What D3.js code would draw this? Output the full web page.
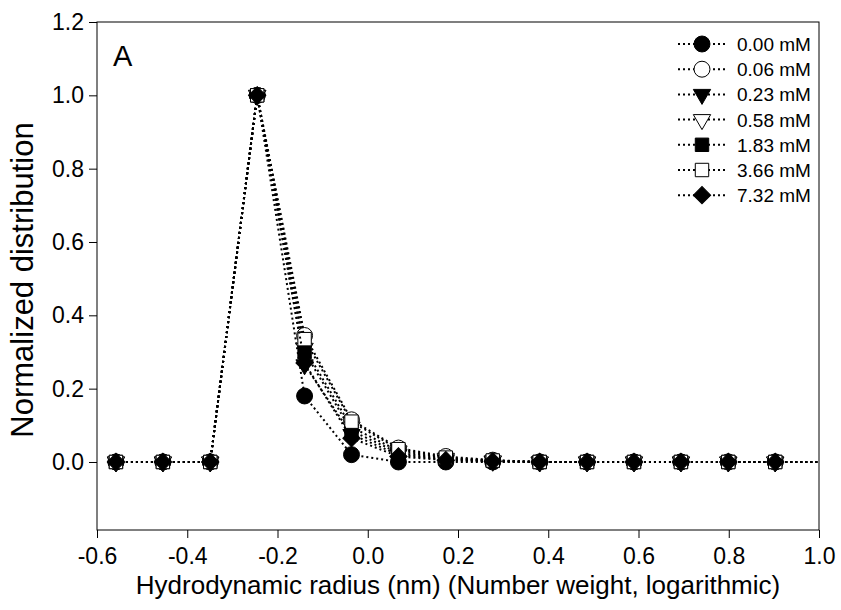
<!DOCTYPE html>
<html>
<head>
<meta charset="utf-8">
<script src="https://cdn.jsdelivr.net/npm/d3@7"></script>
<style>
  body { margin: 0; background: #fff; }
  text { font-family: "Liberation Sans", Arial, sans-serif; fill: #000; }
</style>
</head>
<body>
<div id="chart-area"></div>
<script>
// log10 of radius bins (last one lies just past the axis end)
const radius = [-0.558, -0.454, -0.349, -0.245, -0.140, -0.036, 0.068, 0.173, 0.277, 0.381, 0.486, 0.590, 0.694, 0.799, 0.903, 1.007]

const conc = ["0.00 mM", "0.06 mM", "0.23 mM", "0.58 mM", "1.83 mM", "3.66 mM", "7.32 mM"]

const s000 = [0, 0, 0, 1, 0.18, 0.020, 0.000, 0.000, 0.000, 0, 0, 0, 0, 0, 0, 0]
const s006 = [0, 0, 0, 1, 0.345, 0.115, 0.038, 0.015, 0.005, 0, 0, 0, 0, 0, 0, 0]
const s023 = [0, 0, 0, 1, 0.265, 0.075, 0.020, 0.006, 0.002, 0, 0, 0, 0, 0, 0, 0]
const s058 = [0, 0, 0, 1, 0.310, 0.095, 0.030, 0.010, 0.003, 0, 0, 0, 0, 0, 0, 0]
const s183 = [0, 0, 0, 1, 0.300, 0.085, 0.025, 0.008, 0.003, 0, 0, 0, 0, 0, 0, 0]
const s366 = [0, 0, 0, 1, 0.335, 0.110, 0.035, 0.012, 0.004, 0, 0, 0, 0, 0, 0, 0]
const s732 = [0, 0, 0, 1, 0.270, 0.065, 0.015, 0.005, 0.002, 0, 0, 0, 0, 0, 0, 0]

const seriesValues = [s000, s006, s023, s058, s183, s366, s732]

const xTicks = [-0.6, -0.4, -0.2, 0.0, 0.2, 0.4, 0.6, 0.8, 1.0]
const yTicks = [0.0, 0.2, 0.4, 0.6, 0.8, 1.0, 1.2]

// marker style per series: [symbol, filled, rotation, size]
const markers = [
    [d3.symbolCircle, true, 0, 200],
    [d3.symbolCircle, false, 0, 200],
    [d3.symbolTriangle, true, 180, 130],
    [d3.symbolTriangle, false, 180, 130],
    [d3.symbolSquare, true, 0, 180],
    [d3.symbolSquare, false, 0, 180],
    [d3.symbolSquare, true, 45, 150]
]

const margin = { top: 22, right: 22, bottom: 80, left: 97 }
const width = 841 - margin.left - margin.right,
      height = 610 - margin.top - margin.bottom

const svg = d3.select("#chart-area").append("svg")
    .attr("width", 841)
    .attr("height", 610)

const g = svg.append("g")
    .attr("transform", "translate(" + margin.left + "," + margin.top + ")")

const x = d3.scaleLinear().domain([-0.6, 1.0]).range([0, width])
const y = d3.scaleLinear().domain([-0.1855, 1.2]).range([height, 0])

g.append("clipPath").attr("id", "plot-clip")
    .append("rect").attr("width", width).attr("height", height)

const fmt = function(d){ return d.toFixed(1) }

// axes
const xAxis = d3.axisBottom(x).tickValues(xTicks).tickSize(8).tickPadding(10)
    .tickFormat(fmt)
g.append("g")
    .attr("transform", "translate(0," + height + ")")
    .call(xAxis)
    .call(a => a.select(".domain").remove())

const yAxis = d3.axisLeft(y).tickValues(yTicks).tickSize(8).tickPadding(5)
    .tickFormat(fmt)
g.append("g")
    .call(yAxis)
    .call(a => a.select(".domain").remove())

g.selectAll(".tick line").attr("stroke", "#000").attr("stroke-width", 1)
g.selectAll(".tick text").attr("font-size", "23px")
    .style("font-family", "'Liberation Sans', Arial, sans-serif")

g.append("rect")
    .attr("width", width).attr("height", height)
    .attr("fill", "none").attr("stroke", "#000").attr("stroke-width", 1)

// series: each segment dashed on its own, as the plotting program did
const line = d3.line()
    .x(function(d){ return x(d[0]) })
    .y(function(d){ return y(d[1]) })

function symbolPath(m) {
    return d3.symbol().type(m[0]).size(m[3])()
}

seriesValues.forEach(function(vals, k){
    const m = markers[k]
    const pts = vals.map(function(v, i){ return [radius[i], v] })
    const segs = d3.pairs(pts)

    g.append("g").attr("clip-path", "url(#plot-clip)")
        .selectAll("path")
        .data(segs)
        .enter()
        .append("path")
        .attr("d", function(s){ return line(s) })
        .attr("fill", "none")
        .attr("stroke", "#000")
        .attr("stroke-width", 2)
        .attr("stroke-dasharray", "2,3")

    g.selectAll(".pt" + k)
        .data(pts.filter(function(p){ return p[0] <= 1.0 }))
        .enter()
        .append("path")
        .attr("d", symbolPath(m))
        .attr("transform", function(p){
            return "translate(" + x(p[0]) + "," + y(p[1]) + ") rotate(" + m[2] + ")"
        })
        .attr("fill", m[1] ? "#000" : "#fff")
        .attr("stroke", "#000")
        .attr("stroke-width", 1)
})

// legend
const legend = g.append("g").attr("transform", "translate(" + (width - 141) + ",22)")
conc.forEach(function(c, k){
    const m = markers[k]
    const row = legend.append("g").attr("transform", "translate(0," + (k * 25.2) + ")")
    row.append("line")
        .attr("x1", 0).attr("x2", 48)
        .attr("stroke", "#000").attr("stroke-width", 2)
        .attr("stroke-dasharray", "2,3")
    row.append("path")
        .attr("d", symbolPath(m))
        .attr("transform", "translate(24,0) rotate(" + m[2] + ")")
        .attr("fill", m[1] ? "#000" : "#fff")
        .attr("stroke", "#000")
    row.append("text")
        .attr("x", 59).attr("y", 7)
        .attr("font-size", "19px")
        .text(c)
})

// panel letter
g.append("text")
    .attr("x", 16).attr("y", 44)
    .attr("font-size", "29px")
    .text("A")

// axis titles
svg.append("text")
    .attr("x", margin.left + width / 2)
    .attr("y", 594)
    .attr("font-size", "26px")
    .attr("text-anchor", "middle")
    .text("Hydrodynamic radius (nm) (Number weight, logarithmic)")

svg.append("text")
    .attr("x", -280)
    .attr("y", 33)
    .attr("font-size", "31px")
    .attr("text-anchor", "middle")
    .attr("transform", "rotate(-90)")
    .text("Normalized distribution")
</script>
</body>
</html>
